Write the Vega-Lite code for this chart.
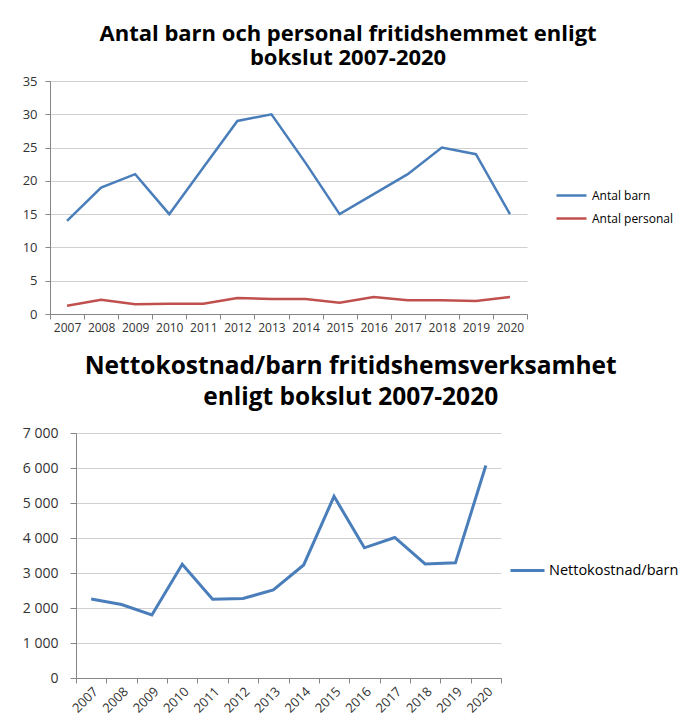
{
  "$schema": "https://vega.github.io/schema/vega-lite/v6.json",
  "padding": {"left": 22, "top": 22, "right": 0, "bottom": 0},
  "background": "white",
  "bounds": "flush",
  "center": true,
  "spacing": 119,
  "config": {
    "font": "Open Sans",
    "view": {"stroke": null},
    "axis": {"labelColor": "#333333", "labelFont": "Open Sans", "domainColor": "#868686", "tickColor": "#868686", "gridColor": "#d0d0d0", "gridWidth": 1},
    "title": {"font": "Open Sans", "fontWeight": "bold", "color": "#000000", "anchor": "middle", "frame": "bounds"}
  },
  "resolve": {"scale": {"color": "independent", "x": "independent", "y": "independent"}, "legend": {"color": "independent"}},
  "vconcat": [
    {
      "title": {"text": ["Antal barn och personal fritidshemmet  enligt", "bokslut 2007-2020"], "fontSize": 22, "lineHeight": 24.5, "offset": 5},
      "width": 477,
      "height": 233,
      "data": {"values": [
        {"year": "2007", "serie": "Antal barn", "value": 14},
        {"year": "2008", "serie": "Antal barn", "value": 19},
        {"year": "2009", "serie": "Antal barn", "value": 21},
        {"year": "2010", "serie": "Antal barn", "value": 15},
        {"year": "2011", "serie": "Antal barn", "value": 22},
        {"year": "2012", "serie": "Antal barn", "value": 29},
        {"year": "2013", "serie": "Antal barn", "value": 30},
        {"year": "2014", "serie": "Antal barn", "value": 22.7},
        {"year": "2015", "serie": "Antal barn", "value": 15},
        {"year": "2016", "serie": "Antal barn", "value": 18},
        {"year": "2017", "serie": "Antal barn", "value": 21},
        {"year": "2018", "serie": "Antal barn", "value": 25},
        {"year": "2019", "serie": "Antal barn", "value": 24},
        {"year": "2020", "serie": "Antal barn", "value": 15},
        {"year": "2007", "serie": "Antal personal", "value": 1.25},
        {"year": "2008", "serie": "Antal personal", "value": 2.15},
        {"year": "2009", "serie": "Antal personal", "value": 1.45},
        {"year": "2010", "serie": "Antal personal", "value": 1.55},
        {"year": "2011", "serie": "Antal personal", "value": 1.55},
        {"year": "2012", "serie": "Antal personal", "value": 2.4},
        {"year": "2013", "serie": "Antal personal", "value": 2.25},
        {"year": "2014", "serie": "Antal personal", "value": 2.25},
        {"year": "2015", "serie": "Antal personal", "value": 1.7},
        {"year": "2016", "serie": "Antal personal", "value": 2.55},
        {"year": "2017", "serie": "Antal personal", "value": 2.05},
        {"year": "2018", "serie": "Antal personal", "value": 2.05},
        {"year": "2019", "serie": "Antal personal", "value": 1.95},
        {"year": "2020", "serie": "Antal personal", "value": 2.55}
      ]},
      "mark": {"type": "line", "strokeWidth": 2.5},
      "encoding": {
        "x": {"field": "year", "type": "ordinal", "bandPosition": 0.5,
              "scale": {"type": "band", "paddingInner": 0, "paddingOuter": 0},
              "axis": {"title": null, "labelAngle": 0, "tickBand": "extent", "tickSize": 5, "labelFontSize": 12, "labelPadding": 3, "grid": false}},
        "y": {"field": "value", "type": "quantitative",
              "scale": {"domain": [0, 35], "nice": false},
              "axis": {"title": null, "values": [0, 5, 10, 15, 20, 25, 30, 35], "tickSize": 5, "labelFontSize": 13, "labelPadding": 8, "grid": true}},
        "color": {"field": "serie", "type": "nominal",
                  "scale": {"domain": ["Antal barn", "Antal personal"], "range": ["#4a7ebb", "#c0504d"]},
                  "legend": {"title": null, "orient": "none", "legendX": 505, "legendY": 98, "symbolType": "stroke", "symbolSize": 900, "symbolStrokeWidth": 2.5, "labelFontSize": 12, "labelOffset": 4, "rowPadding": -11, "labelColor": "#000000"}}
      }
    },
    {
      "title": {"text": ["Nettokostnad/barn fritidshemsverksamhet", "enligt bokslut 2007-2020"], "fontSize": 24.5, "lineHeight": 31, "offset": 16},
      "width": 425,
      "height": 245,
      "data": {"values": [
        {"year": "2007", "serie": "Nettokostnad/barn", "value": 2260},
        {"year": "2008", "serie": "Nettokostnad/barn", "value": 2100},
        {"year": "2009", "serie": "Nettokostnad/barn", "value": 1800},
        {"year": "2010", "serie": "Nettokostnad/barn", "value": 3250},
        {"year": "2011", "serie": "Nettokostnad/barn", "value": 2250},
        {"year": "2012", "serie": "Nettokostnad/barn", "value": 2270},
        {"year": "2013", "serie": "Nettokostnad/barn", "value": 2515},
        {"year": "2014", "serie": "Nettokostnad/barn", "value": 3230},
        {"year": "2015", "serie": "Nettokostnad/barn", "value": 5190},
        {"year": "2016", "serie": "Nettokostnad/barn", "value": 3720},
        {"year": "2017", "serie": "Nettokostnad/barn", "value": 4015},
        {"year": "2018", "serie": "Nettokostnad/barn", "value": 3260},
        {"year": "2019", "serie": "Nettokostnad/barn", "value": 3290},
        {"year": "2020", "serie": "Nettokostnad/barn", "value": 6070}
      ]},
      "mark": {"type": "line", "strokeWidth": 3},
      "encoding": {
        "x": {"field": "year", "type": "ordinal", "bandPosition": 0.5,
              "scale": {"type": "band", "paddingInner": 0, "paddingOuter": 0},
              "axis": {"title": null, "labelAngle": -45, "tickBand": "extent", "tickSize": 5, "labelFontSize": 13, "labelPadding": 2, "grid": false}},
        "y": {"field": "value", "type": "quantitative",
              "scale": {"domain": [0, 7000], "nice": false},
              "axis": {"title": null, "values": [0, 1000, 2000, 3000, 4000, 5000, 6000, 7000], "labelExpr": "replace(format(datum.value, ','), ',', ' ')", "tickSize": 6, "labelFontSize": 14, "labelPadding": 12, "grid": true}},
        "color": {"field": "serie", "type": "nominal",
                  "scale": {"domain": ["Nettokostnad/barn"], "range": ["#4a7ebb"]},
                  "legend": {"title": null, "orient": "none", "legendX": 433, "legendY": 119, "symbolType": "stroke", "symbolSize": 1156, "symbolStrokeWidth": 3, "labelFontSize": 14.5, "labelOffset": 3, "labelColor": "#000000"}}
      }
    }
  ]
}
